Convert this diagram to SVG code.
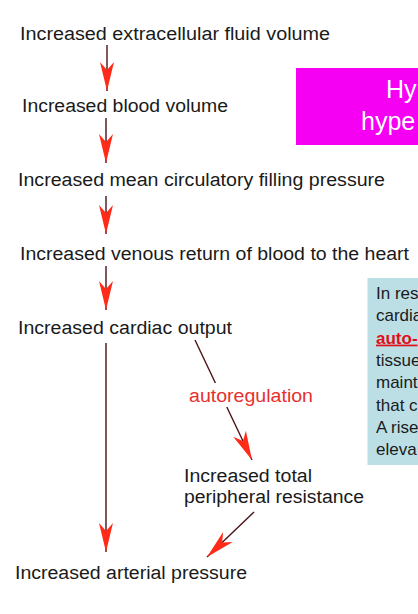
<svg xmlns="http://www.w3.org/2000/svg" width="418" height="614" viewBox="0 0 418 614">
<style>
.t{font-family:"Liberation Sans",Arial,Helvetica,sans-serif;font-size:18px;fill:#1a1a1a}
.r{fill:#e8302e}
.stem{stroke:#4a1216;stroke-width:1.4;fill:none}
.side{font-family:"Liberation Sans",Arial,Helvetica,sans-serif;font-size:17px;fill:#1a1a1a}
.title{font-family:"Liberation Sans",Arial,Helvetica,sans-serif;font-size:25px;fill:#ffffff}
</style>
<defs>
<marker id="ah" markerUnits="userSpaceOnUse" viewBox="0 0 30 16" markerWidth="30" markerHeight="16" refX="29" refY="8" orient="auto">
<path d="M29,8 L0,1 L8,8 L0,15 Z" fill="#ff2a18"/>
</marker>
</defs>
<rect width="418" height="614" fill="#ffffff"/>

<g id="title-box">
<rect x="296" y="68" width="122" height="77" fill="#f600f4"/>
<text class="title" x="386" y="98">Hy</text>
<text class="title" x="361" y="130">hype</text>
</g>

<g id="note-box">
<rect x="367.5" y="278" width="50.5" height="187" fill="#bcdfe6"/>
<text class="side" x="376" y="299">In res</text>
<text class="side" x="376" y="321.3">cardia</text>
<text class="side" x="376" y="343.6" style="fill:#e0101a;font-weight:bold;text-decoration:underline">auto-</text>
<text class="side" x="376" y="365.9">tissue</text>
<text class="side" x="376" y="388.2">maint</text>
<text class="side" x="376" y="410.5">that c</text>
<text class="side" x="376" y="432.8">A rise</text>
<text class="side" x="376" y="455">eleva</text>
</g>

<g id="n1"><text class="t" x="20" y="40" textLength="310" lengthAdjust="spacingAndGlyphs">Increased extracellular fluid volume</text></g>
<g id="n2"><text class="t" x="22" y="112" textLength="206" lengthAdjust="spacingAndGlyphs">Increased blood volume</text></g>
<g id="n3"><text class="t" x="18" y="186" textLength="367" lengthAdjust="spacingAndGlyphs">Increased mean circulatory filling pressure</text></g>
<g id="n4"><text class="t" x="20" y="260" textLength="389" lengthAdjust="spacingAndGlyphs">Increased venous return of blood to the heart</text></g>
<g id="n5"><text class="t" x="18" y="334" textLength="214" lengthAdjust="spacingAndGlyphs">Increased cardiac output</text></g>
<g id="n6"><text class="t" x="184" y="482" textLength="128" lengthAdjust="spacingAndGlyphs">Increased total</text><text class="t" x="184" y="503" textLength="180" lengthAdjust="spacingAndGlyphs">peripheral resistance</text></g>
<g id="n7"><text class="t" x="15" y="579" textLength="232" lengthAdjust="spacingAndGlyphs">Increased arterial pressure</text></g>

<g id="connectors">
<line class="stem" x1="107" y1="45" x2="107" y2="91" marker-end="url(#ah)"/>
<line class="stem" x1="106" y1="118" x2="106" y2="163" marker-end="url(#ah)"/>
<line class="stem" x1="106" y1="196" x2="106" y2="234" marker-end="url(#ah)"/>
<line class="stem" x1="106" y1="266" x2="106" y2="310" marker-end="url(#ah)"/>
<line class="stem" x1="106" y1="343" x2="106" y2="552" marker-end="url(#ah)"/>
<line class="stem" x1="195" y1="340" x2="215.4" y2="383"/>
<line class="stem" x1="226.8" y1="407" x2="252" y2="460" marker-end="url(#ah)"/>
<line class="stem" x1="254" y1="512" x2="207" y2="557" marker-end="url(#ah)"/>
<text class="t r" x="189" y="402" textLength="124" lengthAdjust="spacingAndGlyphs">autoregulation</text>
</g>
</svg>
